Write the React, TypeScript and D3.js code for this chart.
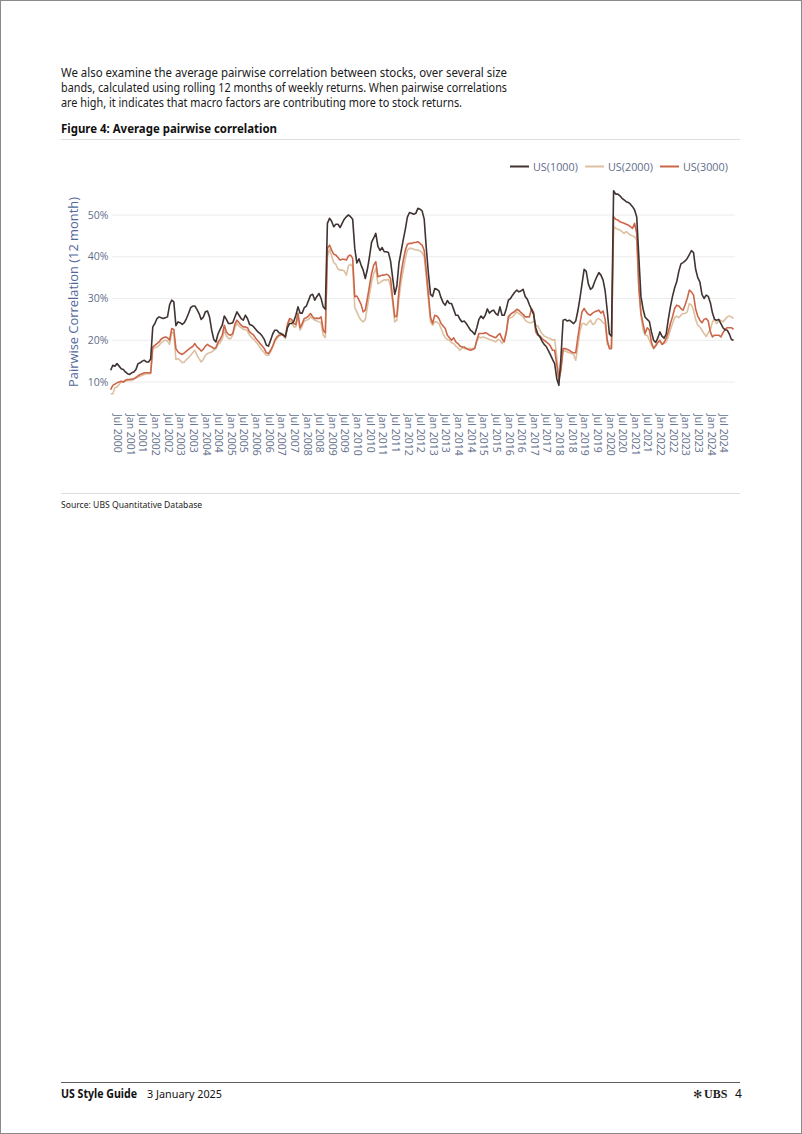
import React from "react";
import * as d3 from "d3";

// Monthly observations, first value = Apr 2000 (month index 3, counted from Jan 2000)
const startMonthIndex = 3;

const us1000 = [
  12.8, 14, 13.8, 14.4, 13.8, 13.2, 13, 12.4, 12, 11.8,
  12.2, 12.4, 13, 14.4, 14.6, 15, 15.2, 14.8, 14.8, 15.5,
  23.2, 24, 25.2, 25.6, 25.4, 25.2, 25.4, 25.6, 28.5, 29.6,
  29.2, 23.5, 24.4, 24.2, 23.8, 24.2, 25.2, 26.4, 27.8, 28.2,
  28.2, 27.4, 26.4, 25, 25.5, 26.8, 27, 25.5, 22.4, 20.2,
  19.6, 21.5, 22.6, 23.6, 25.8, 25, 24, 24, 24.2, 25.5,
  26.8, 26, 25.2, 24.8, 26, 25.2, 23.8, 23.6, 23.2, 22.6,
  22, 21.6, 21, 20.2, 18.8, 18.6, 20, 21.5, 22.4, 22.4,
  21.8, 21.6, 21.2, 20.8, 23, 24, 24, 24.5, 26, 28,
  26.5, 26.5, 27.8, 28.2, 29.5, 30.8, 31, 29.6, 30.5, 31.2,
  30, 28, 27.4, 48, 49.2, 48.5, 47.2, 47.8, 47.8, 47,
  48, 49, 49.6, 50, 49.6, 49, 42, 38.5, 39.5, 38,
  36.8, 34.8, 37, 40, 43.5, 44.5, 45.6, 42.5, 41.5, 42.2,
  41.2, 41.2, 41, 39, 35, 31, 33, 38.5, 41.2, 44,
  46.5, 49.5, 50.6, 50.4, 50.2, 50.4, 51.6, 51.4, 51, 49,
  42, 36, 31, 30.5, 32.4, 32.2, 31.8, 30.2, 29, 28.4,
  29.5, 28.8, 28.8, 27.4, 26, 26, 25, 24.4, 24.6, 24,
  23.2, 22.4, 22, 21.4, 23, 25, 25.8, 25.2, 26, 27.5,
  26.5, 27, 27.2, 26.4, 26, 28, 26, 26, 27.5, 29.6,
  30, 30.8, 31.5, 32, 31.6, 31.8, 32.2, 30.5, 29.8, 28.5,
  27.4, 26.2, 23, 21.5, 20.8, 19.8, 19, 18.5, 17.5, 16.5,
  15.4, 14.4, 10.8, 9.2, 16, 24.8, 25, 24.6, 24.8, 24.4,
  24, 24.6, 27, 30, 33.5, 37, 36.5, 33.5, 32.2, 32.6,
  34, 35.2, 36.2, 35.6, 34.4, 31.8, 27, 21.5, 21, 55.8,
  55, 55, 54.6, 54, 53.6, 53.2, 53, 52.6, 52, 51.2,
  49.5, 40, 30.5, 27.5, 25.5, 25, 24.5, 22, 20, 19.5,
  20.5, 22, 21, 20.5, 21.5, 25, 28, 30.5, 32.5, 34,
  36.5, 38.3, 38.6, 39, 39.6, 40.5, 41.5, 41, 37, 35,
  34, 31, 30, 30.8, 30.5, 29, 26.5, 25, 24.8, 25,
  24, 23, 22.5, 22.4, 21.5, 20.2, 20,
];

const us2000 = [
  7.2, 7.2, 8.6, 8.8, 9.4, 10, 10, 10.2, 10.4, 10.4,
  10.4, 10.6, 11.2, 11.2, 11.4, 11.6, 11.8, 12, 12, 12,
  18, 18.2, 18.4, 18.8, 19.4, 19.8, 20, 19.8, 19, 22,
  21.6, 15.4, 15.6, 15.2, 14.6, 14.8, 15.4, 15.8, 16.4, 17,
  17.6, 16.4, 15.6, 14.8, 15.4, 16.4, 16.8, 17, 17.2, 17.6,
  18, 19, 19.4, 20.2, 22.4, 21, 20.4, 20.4, 21.2, 23,
  24, 23.4, 23, 22.6, 22.6, 22.2, 21.2, 20.6, 20.2, 19.6,
  19, 18.2, 17.6, 17, 16.4, 16.4, 17.2, 18.4, 19.6, 20.4,
  21, 21.2, 21.2, 20.4, 23.2, 24.8, 24.4, 23.2, 23.2, 25.8,
  22.4, 23.4, 24.6, 24.8, 25, 25.6, 25.2, 24.8, 24.6, 24.4,
  24.2, 21.2, 20.6, 40, 41.8, 40.2, 38.6, 38.2, 37, 36.8,
  36.8, 36.6, 35.6, 37.8, 38.2, 37.6, 27.8, 26.8, 25.6, 24.8,
  24.4, 25, 28, 31, 34, 36, 37.2, 33.5, 33.8, 34.2,
  34.5, 34.4, 34.6, 33, 29, 24.4, 24.8, 30, 34, 36.6,
  39.5, 41.6, 42, 42, 41.8, 41.6, 41.6, 41.4, 41, 40,
  35, 29.6, 24.4, 23.6, 24.4, 24.4, 24, 22.8, 21.6, 20.6,
  20.2, 20, 19.4, 19.2, 18.6, 18.2, 17.6, 18.2, 18, 18,
  18, 18, 18, 18.2, 19.8, 20.8, 20.6, 20.8, 20.6, 20.4,
  20.2, 20, 19.8, 19.6, 20.2, 20, 19.2, 20.2, 22, 25.2,
  25.4, 25.6, 26.2, 26.8, 26.4, 26, 25.6, 24.8, 24.4, 24.2,
  24.2, 24.6, 23.6, 23.4, 22.4, 21.6, 21, 20.8, 20.5, 20.4,
  20, 20.2, 16, 11.2, 13, 17.6, 17.4, 17.2, 17, 16.8,
  16.6, 15.2, 18.5, 22, 24, 24, 23.6, 24.2, 24.8, 23.8,
  24, 25, 25.2, 24.8, 24.2, 24, 19, 18.6, 18.4, 47.2,
  46.8, 46.6, 46.4, 46, 45.6, 46, 45.6, 45.2, 45, 44.8,
  44, 32, 26, 22.5, 21.2, 21.2, 20, 18.8, 18.4, 18.8,
  19.4, 19.8, 19, 19.2, 19.6, 20.8, 22.5, 24, 25.4, 25.8,
  25.4, 26, 26.4, 26.4, 26.8, 28.8, 28.4, 27.2, 25, 23.6,
  23.2, 22.4, 21.6, 20.9, 21.8, 22.5, 24.4, 25, 24, 24.6,
  24.8, 24.4, 25, 25.6, 25.8, 25.6, 25.2,
];

const us3000 = [
  8.2, 9.2, 9.5, 9.8, 10, 10.2, 10, 10.4, 10.6, 10.6,
  10.7, 10.8, 11, 11.5, 11.8, 12, 12.2, 12.2, 12.2, 12.2,
  18.4, 18.8, 19.2, 19.6, 20.3, 20.6, 20.8, 20.6, 20, 22.8,
  22.6, 18, 17.2, 16.8, 16.6, 17, 17.4, 17.8, 18.2, 18.5,
  19.2, 18.4, 18, 17.4, 17.8, 18.6, 19, 18.6, 18.4, 18,
  18.2, 19.5, 20.2, 21.2, 23.6, 22, 21.4, 21.2, 21.6, 23.8,
  24.8, 24.2, 23.6, 23.2, 23.2, 23, 22, 21.6, 21.2, 20.4,
  19.8, 19.2, 18.6, 18, 17, 16.8, 17.6, 18.6, 20, 20.8,
  21.2, 21.4, 21.4, 20.8, 23.8, 25.2, 25, 24, 23.8, 26.5,
  23, 24, 25.2, 25.4, 25.8, 26.4, 25.6, 25.2, 25.3, 25.2,
  25.6, 22.4, 21.8, 42, 42.8, 41.6, 40.6, 40.4, 39.8, 39.2,
  39.4, 39.4, 39.2, 40.2, 40.4, 39.6, 30.4, 30.6, 29.6, 28.6,
  26.8, 27.2, 30, 33, 36, 38, 38.8, 35.2, 35.4, 35.6,
  35.6, 35.8, 35.6, 34.8, 30, 25.6, 25.8, 32, 36, 39,
  41.5, 43, 43.2, 43.2, 43.4, 43.4, 43.6, 43.2, 42.8, 41.5,
  36.5, 31, 25.5, 24, 26, 25.8, 25.2, 24, 23.4, 22.8,
  21.2, 20.6, 20, 20.6, 19.6, 19.2, 18.6, 18.4, 18.4, 18,
  17.8, 17.6, 17.8, 18, 20, 21.6, 21.6, 21.6, 21.8, 21.6,
  21.2, 21, 20.8, 20.6, 21.2, 21.6, 20.4, 19.6, 21.8, 25.6,
  26.2, 26.6, 26.9, 27.4, 27.2, 26.6, 26.2, 25.6, 25.6, 25.6,
  27.6, 26.6, 22, 21.2, 21, 20.4, 20, 19.6, 19.2, 18.6,
  17.6, 17.6, 14.2, 10.4, 13, 18, 18, 17.8, 17.6, 17.2,
  17, 17, 20.6, 24, 26.8, 27.6, 26.8, 26.2, 26, 26.5,
  26.8, 27, 27.2, 26.5, 27, 25, 20, 18, 18, 49.6,
  49, 48.8, 48.4, 48.2, 48, 47.8, 47.6, 47.2, 46.8, 48,
  45.6, 33, 26.5, 24, 21.6, 23, 22.5, 19.5, 18, 18.6,
  19.5, 20, 19, 19.5, 20.5, 22, 24, 25.6, 27.6, 28.4,
  28.2, 27.6, 27.2, 28.5, 30, 32, 31.6, 30.8, 27.5, 25.8,
  24.8, 24.2, 25, 25.2, 24.6, 22, 20.8, 21.2, 21.2, 21.2,
  20.8, 21.8, 22.6, 23, 23, 23, 22.6,
];

const seriesNames = ["US(1000)", "US(2000)", "US(3000)"];
const seriesColors = ["#3f3431", "#dcc0a0", "#cc6648"];
const yTicks = [10, 20, 30, 40, 50];
const monthNames = ["Jan", "Jul"];
// tick labels every 6 months, Jul 2000 .. Jul 2024
const tickMonths = d3.range(6, 295, 6);

const bodyLines = [
  "We also examine the average pairwise correlation between stocks, over several size",
  "bands, calculated using rolling 12 months of weekly returns. When pairwise correlations",
  "are high, it indicates that macro factors are contributing more to stock returns.",
];

export default function App() {
  const x = d3.scaleLinear().domain([6, 294]).range([117, 723]);
  const y = d3.scaleLinear().domain([10, 50]).range([382, 215]);
  const all = [us1000, us2000, us3000];
  const line = d3
    .line<number>()
    .x((_, i) => x(startMonthIndex + i))
    .y((d) => y(d));
  const axisColor = "#5f6e8a";
  const chartFont = "'Open Sans', sans-serif";
  const docFont = "'Noto Sans', 'Open Sans', sans-serif";
  const legendX = [510, 585, 660];
  const drawOrder = [1, 2, 0];

  return (
    <svg
      width={802}
      height={1134}
      style={{ position: "absolute", left: 0, top: 0, background: "#fff" }}
    >
      <rect x={0.5} y={0.5} width={801} height={1133} fill="#fff" stroke="#8a8a8a" />
      {bodyLines.map((t, i) => (
        <text
          key={i}
          x={61}
          y={77 + i * 15}
          fontFamily={docFont}
          fontSize={12.2}
          fill="#1a1a1a"
          textLength={i < 2 ? 446 : 401}
          lengthAdjust="spacingAndGlyphs"
        >
          {t}
        </text>
      ))}
      <text
        x={61}
        y={132.5}
        fontFamily={docFont}
        fontSize={12.2}
        fontWeight="bold"
        fill="#111"
        textLength={216}
        lengthAdjust="spacingAndGlyphs"
      >
        Figure 4: Average pairwise correlation
      </text>
      <line x1={61} x2={740} y1={139.5} y2={139.5} stroke="#dedede" strokeWidth={1} />

      {/* legend */}
      {seriesNames.map((n, i) => (
        <g key={n}>
          <line
            x1={legendX[i]}
            x2={legendX[i] + 19}
            y1={166.5}
            y2={166.5}
            stroke={seriesColors[i]}
            strokeWidth={2}
          />
          <text
            x={legendX[i] + 23}
            y={170.5}
            fontFamily={chartFont}
            fontSize={10.8}
            fill={axisColor}
          >
            {n}
          </text>
        </g>
      ))}

      {/* gridlines + y labels */}
      {yTicks.map((t) => (
        <g key={t}>
          <line x1={112} x2={735} y1={y(t)} y2={y(t)} stroke="#ececec" strokeWidth={1} />
          <text
            x={108.5}
            y={y(t)}
            dy="0.35em"
            textAnchor="end"
            fontFamily={chartFont}
            fontSize={10.5}
            fill={axisColor}
          >
            {t}%
          </text>
        </g>
      ))}
      <text
        transform={`translate(73,292) rotate(-90)`}
        textAnchor="middle"
        dy="0.35em"
        fontFamily={chartFont}
        fontSize={13}
        fill="#52679a"
        textLength={190}
        lengthAdjust="spacingAndGlyphs"
      >
        Pairwise Correlation (12 month)
      </text>

      {/* x labels */}
      {tickMonths.map((m) => {
        const yr = 2000 + Math.floor(m / 12);
        const label = `${monthNames[(m % 12) / 6]} ${yr}`;
        return (
          <text
            key={m}
            transform={`translate(${x(m)},414) rotate(90)`}
            dominantBaseline="middle"
            fontFamily={chartFont}
            fontSize={10.5}
            fill={axisColor}
          >
            {label}
          </text>
        );
      })}

      {/* series */}
      {drawOrder.map((k) => (
        <path
          key={k}
          d={line(all[k]) || ""}
          fill="none"
          stroke={seriesColors[k]}
          strokeWidth={1.6}
          strokeLinejoin="round"
        />
      ))}

      <line x1={61} x2={740} y1={493.5} y2={493.5} stroke="#dedede" strokeWidth={1} />
      <text x={61} y={507.5} fontFamily={docFont} fontSize={8.6} fill="#222">
        Source: UBS Quantitative Database
      </text>

      {/* footer */}
      <line x1={61} x2={740} y1={1082.5} y2={1082.5} stroke="#333" strokeWidth={0.8} />
      <text
        x={61}
        y={1097.5}
        fontFamily={docFont}
        fontSize={11.5}
        fontWeight="bold"
        fill="#111"
        textLength={76}
        lengthAdjust="spacingAndGlyphs"
      >
        US Style Guide
      </text>
      <text
        x={147}
        y={1097.5}
        fontFamily={docFont}
        fontSize={11.5}
        fill="#111"
        textLength={75}
        lengthAdjust="spacingAndGlyphs"
      >
        3 January 2025
      </text>
      <text x={693} y={1097.5} fontFamily="'DejaVu Sans', sans-serif" fontSize={11} fill="#222">
        ✻
      </text>
      <text x={704} y={1097.5} fontFamily="'Liberation Serif', serif" fontSize={12} fontWeight="bold" fill="#222">
        UBS
      </text>
      <text x={735} y={1097.5} fontFamily={docFont} fontSize={12} fill="#111">
        4
      </text>
    </svg>
  );
}
